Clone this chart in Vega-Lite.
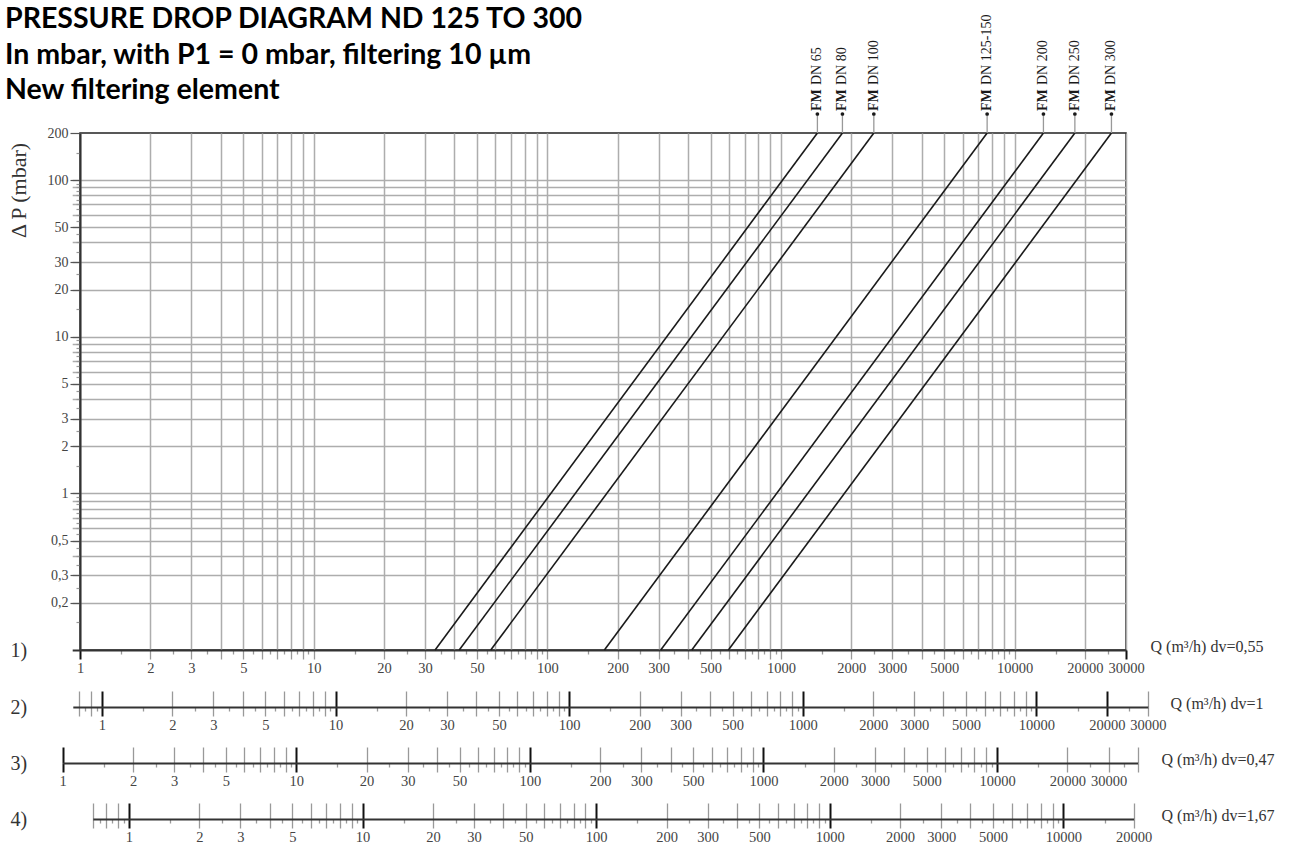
{
  "$schema": "https://vega.github.io/schema/vega-lite/v6.json",
  "width": 1046,
  "height": 517,
  "padding": {"left": 5, "top": 5, "right": 5, "bottom": 2},
  "background": "white",
  "title": {
    "text": ["PRESSURE DROP DIAGRAM ND 125 TO 300", "In mbar, with P1 = 0 mbar, filtering 10 µm", "New filtering element"],
    "anchor": "start",
    "frame": "group",
    "dx": -75,
    "offset": -90,
    "font": "Lato",
    "fontSize": 28.5,
    "fontWeight": "bold",
    "lineHeight": 35.5,
    "color": "#000000"
  },
  "datasets": {
    "lines": [
      {"dn": "DN 65", "Q": 33.1, "dP": 0.1}, {"dn": "DN 65", "Q": 1433, "dP": 200},
      {"dn": "DN 80", "Q": 42.0, "dP": 0.1}, {"dn": "DN 80", "Q": 1834, "dP": 200},
      {"dn": "DN 100", "Q": 57.3, "dP": 0.1}, {"dn": "DN 100", "Q": 2499, "dP": 200},
      {"dn": "DN 125-150", "Q": 175.6, "dP": 0.1}, {"dn": "DN 125-150", "Q": 7634, "dP": 200},
      {"dn": "DN 200", "Q": 306, "dP": 0.1}, {"dn": "DN 200", "Q": 13295, "dP": 200},
      {"dn": "DN 250", "Q": 415.5, "dP": 0.1}, {"dn": "DN 250", "Q": 18125, "dP": 200},
      {"dn": "DN 300", "Q": 596, "dP": 0.1}, {"dn": "DN 300", "Q": 25991, "dP": 200}
    ],
    "labels": [
      {"dn": "DN 65", "Qtop": 1433},
      {"dn": "DN 80", "Qtop": 1834},
      {"dn": "DN 100", "Qtop": 2499},
      {"dn": "DN 125-150", "Qtop": 7634},
      {"dn": "DN 200", "Qtop": 13295},
      {"dn": "DN 250", "Qtop": 18125},
      {"dn": "DN 300", "Qtop": 25991}
    ],
    "dummy": [{"Q": 1}]
  },
  "layer": [
    {
      "layer": [
        {
          "data": {"name": "lines"},
          "mark": {"type": "line", "color": "#1a1a1a", "strokeWidth": 1.6},
          "encoding": {
            "detail": {"field": "dn", "type": "nominal"},
            "x": {
              "field": "Q", "type": "quantitative",
              "scale": {"type": "log", "domain": [0.926, 30000], "range": [-7.8, 1046], "nice": false},
              "axis": {
                "orient": "bottom",
                "values": [1,2,3,4,5,6,7,8,9,10,20,30,40,50,60,70,80,90,100,200,300,400,500,600,700,800,900,1000,2000,3000,4000,5000,6000,7000,8000,9000,10000,20000,30000,1.5,2.5,3.5,4.5,5.5,6.5,7.5,8.5,9.5,15,25,35,45,55,65,75,85,95,150,250,350,450,550,650,750,850,950,1500,2500,3500,4500,5500,6500,7500,8500,9500,15000,25000],
                "grid": true,
                "gridColor": "#adadad",
                "gridWidth": 1.5,
                "gridOpacity": {"condition": {"test": "abs(datum.value/pow(10,floor(log(datum.value)/LN10+1e-9))-round(datum.value/pow(10,floor(log(datum.value)/LN10+1e-9))))>0.25", "value": 0}, "value": 1},
                "domainColor": "#333333",
                "domainWidth": 2,
                "tickSize": {"condition": {"test": "abs(datum.value/pow(10,floor(log(datum.value)/LN10+1e-9))-round(datum.value/pow(10,floor(log(datum.value)/LN10+1e-9))))>0.25", "value": 4}, "value": 9},
                "tickColor": {"condition": {"test": "indexof([1,30000],datum.value)>=0", "value": "#111111"}, "value": "#999999"},
                "tickWidth": {"condition": {"test": "indexof([1,30000],datum.value)>=0", "value": 2}, "value": 1.3},
                "labelExpr": "indexof([1,2,3,5,10,20,30,50,100,200,300,500,1000,2000,3000,5000,10000,20000,30000],datum.value)>=0 ? toString(datum.value) : ''",
                "labelFont": "Liberation Serif",
                "labelFontSize": 14.5,
                "labelColor": "#444444",
                "labelPadding": 2,
                "labelOverlap": false,
                "labelFlush": false,
                "title": "Q (m³/h)  dv=0,55",
                "titleX": 1070,
                "titleY": -4,
                "titleAlign": "left",
                "titleBaseline": "middle",
                "titleFont": "Liberation Serif",
                "titleFontSize": 16,
                "titleFontWeight": "normal",
                "titleColor": "#333333"
              }
            },
            "y": {
              "field": "dP", "type": "quantitative",
              "scale": {"type": "log", "domain": [0.1, 200], "nice": false},
              "axis": {
                "orient": "left",
                "values": [0.2,0.3,0.4,0.5,0.6,0.7,0.8,0.9,1,2,3,4,5,6,7,8,9,10,20,30,40,50,60,70,80,90,100,200,0.15,0.25,0.35,0.45,0.55,0.65,0.75,0.85,0.95,1.5,2.5,3.5,4.5,5.5,6.5,7.5,8.5,9.5,15,25,35,45,55,65,75,85,95,150],
                "grid": true,
                "gridColor": "#adadad",
                "gridWidth": 1.5,
                "gridOpacity": {"condition": {"test": "datum.value==200 || abs(datum.value/pow(10,floor(log(datum.value)/LN10+1e-9))-round(datum.value/pow(10,floor(log(datum.value)/LN10+1e-9))))>0.25", "value": 0}, "value": 1},
                "domainColor": "#333333",
                "domainWidth": 2,
                "tickSize": {"condition": {"test": "indexof([200,100,50,30,20,10,5,3,2,1,0.5,0.3,0.2],datum.value)>=0", "value": 10}, "value": 4},
                "tickColor": {"condition": {"test": "indexof([200,100,50,30,20,10,5,3,2,1,0.5,0.3,0.2],datum.value)>=0", "value": "#555555"}, "value": "#999999"},
                "tickWidth": 1.2,
                "labelExpr": "indexof([200,100,50,30,20,10,5,3,2,1,0.5,0.3,0.2],datum.value)>=0 ? replace(toString(datum.value),'.',',') : ''",
                "labelFont": "Liberation Serif",
                "labelFontSize": 14,
                "labelColor": "#444444",
                "labelPadding": 2,
                "labelOverlap": false,
                "labelFlush": false,
                "title": "Δ P (mbar)",
                "titleX": -62,
                "titleY": 57,
                "titleAngle": 270,
                "titleAlign": "center",
                "titleBaseline": "middle",
                "titleFont": "Liberation Serif",
                "titleFontSize": 22,
                "titleFontWeight": "normal",
                "titleColor": "#333333"
              }
            }
          }
        },
        {
          "data": {"name": "labels"},
          "mark": {"type": "rule", "color": "#999999", "strokeWidth": 1.3, "yOffset": -19},
          "encoding": {
            "x": {"field": "Qtop", "type": "quantitative", "scale": {"type": "log", "domain": [0.926, 30000], "range": [-7.8, 1046], "nice": false}},
            "y": {"datum": 200, "type": "quantitative", "scale": {"type": "log", "domain": [0.1, 200], "nice": false}},
            "y2": {"datum": 200}
          }
        },
        {
          "data": {"name": "labels"},
          "mark": {"type": "point", "filled": true, "color": "#1a1a1a", "size": 14, "opacity": 1, "yOffset": -19},
          "encoding": {
            "x": {"field": "Qtop", "type": "quantitative", "scale": {"type": "log", "domain": [0.926, 30000], "range": [-7.8, 1046], "nice": false}},
            "y": {"datum": 200, "type": "quantitative", "scale": {"type": "log", "domain": [0.1, 200], "nice": false}}
          }
        },
        {
          "data": {"name": "labels"},
          "mark": {"type": "text", "angle": 270, "align": "left", "baseline": "middle", "dx": 22, "font": "Liberation Serif", "fontSize": 14, "fontWeight": "bold", "color": "#1a1a1a"},
          "encoding": {
            "x": {"field": "Qtop", "type": "quantitative", "scale": {"type": "log", "domain": [0.926, 30000], "range": [-7.8, 1046], "nice": false}},
            "y": {"datum": 200, "type": "quantitative", "scale": {"type": "log", "domain": [0.1, 200], "nice": false}},
            "text": {"value": "FM"}
          }
        },
        {
          "data": {"name": "labels"},
          "mark": {"type": "text", "angle": 270, "align": "left", "baseline": "middle", "dx": 48, "font": "Liberation Serif", "fontSize": 14, "fontWeight": "normal", "color": "#1a1a1a"},
          "encoding": {
            "x": {"field": "Qtop", "type": "quantitative", "scale": {"type": "log", "domain": [0.926, 30000], "range": [-7.8, 1046], "nice": false}},
            "y": {"datum": 200, "type": "quantitative", "scale": {"type": "log", "domain": [0.1, 200], "nice": false}},
            "text": {"field": "dn", "type": "nominal"}
          }
        }
      ]
    },
    {
      "data": {"name": "dummy"},
      "mark": {"type": "point", "opacity": 0},
      "encoding": {
        "x": {
          "field": "Q", "type": "quantitative",
          "scale": {"type": "log", "domain": [0.926, 30000], "range": [-7.8, 1046], "nice": false},
          "axis": {"orient": "top", "offset": -517, "domain": false, "ticks": false, "labels": false, "grid": false,
            "title": "1)", "titleX": -70, "titleY": 0, "titleAlign": "left", "titleBaseline": "middle",
            "titleFont": "Liberation Serif", "titleFontSize": 20, "titleFontWeight": "normal", "titleColor": "#333333"}
        }
      }
    },
    {
      "data": {"name": "dummy"},
      "mark": {"type": "point", "opacity": 0},
      "encoding": {
        "x": {
          "field": "Q", "type": "quantitative",
          "scale": {"type": "log", "domain": [0.75, 30000], "range": [-7.2, 1067.9], "nice": false},
          "axis": {"orient": "top", "offset": -574, "domain": false, "labels": false, "grid": false,
            "values": [0.8,0.9,1,2,3,4,5,6,7,8,9,10,20,30,40,50,60,70,80,90,100,200,300,400,500,600,700,800,900,1000,2000,3000,4000,5000,6000,7000,8000,9000,10000,20000,30000],
            "tickSize": 16,
            "tickColor": {"condition": {"test": "indexof([1,10,100,1000,10000,20000],datum.value)>=0", "value": "#111111"}, "value": "#999999"},
            "tickWidth": {"condition": {"test": "indexof([1,10,100,1000,10000,20000],datum.value)>=0", "value": 2}, "value": 1.3},
            "title": "2)", "titleX": -70, "titleY": 0, "titleAlign": "left", "titleBaseline": "middle",
            "titleFont": "Liberation Serif", "titleFontSize": 20, "titleFontWeight": "normal", "titleColor": "#333333"}
        }
      }
    },
    {
      "data": {"name": "dummy"},
      "mark": {"type": "point", "opacity": 0},
      "encoding": {
        "x": {
          "field": "Q", "type": "quantitative",
          "scale": {"type": "log", "domain": [0.75, 30000], "range": [-7.2, 1067.9], "nice": false},
          "axis": {"orient": "bottom", "offset": 57, "grid": false,
            "values": [0.8,0.9,1,2,3,4,5,6,7,8,9,10,20,30,40,50,60,70,80,90,100,200,300,400,500,600,700,800,900,1000,2000,3000,4000,5000,6000,7000,8000,9000,10000,20000,30000,0.85,0.95,1.5,2.5,3.5,4.5,5.5,6.5,7.5,8.5,9.5,15,25,35,45,55,65,75,85,95,150,250,350,450,550,650,750,850,950,1500,2500,3500,4500,5500,6500,7500,8500,9500,15000,25000],
            "domainColor": "#333333", "domainWidth": 2,
            "tickSize": {"condition": {"test": "abs(datum.value/pow(10,floor(log(datum.value)/LN10+1e-9))-round(datum.value/pow(10,floor(log(datum.value)/LN10+1e-9))))>0.25", "value": 4}, "value": 9},
            "tickColor": {"condition": {"test": "indexof([1,10,100,1000,10000,20000],datum.value)>=0", "value": "#111111"}, "value": "#999999"},
            "tickWidth": {"condition": {"test": "indexof([1,10,100,1000,10000,20000],datum.value)>=0", "value": 2}, "value": 1.3},
            "labelExpr": "indexof([1,2,3,5,10,20,30,50,100,200,300,500,1000,2000,3000,5000,10000,20000,30000],datum.value)>=0 ? toString(datum.value) : ''",
            "labelFont": "Liberation Serif", "labelFontSize": 14.5, "labelColor": "#444444", "labelPadding": 2, "labelOverlap": false, "labelFlush": false,
            "title": "Q (m³/h)  dv=1", "titleX": 1090, "titleY": -4, "titleAlign": "left", "titleBaseline": "middle",
            "titleFont": "Liberation Serif", "titleFontSize": 16, "titleFontWeight": "normal", "titleColor": "#333333"}
        }
      }
    },
    {
      "data": {"name": "dummy"},
      "mark": {"type": "point", "opacity": 0},
      "encoding": {
        "x": {
          "field": "Q", "type": "quantitative",
          "scale": {"type": "log", "domain": [1, 40000], "range": [-17.3, 1057.7], "nice": false},
          "axis": {"orient": "top", "offset": -630, "domain": false, "labels": false, "grid": false,
            "values": [1,2,3,4,5,6,7,8,9,10,20,30,40,50,60,70,80,90,100,200,300,400,500,600,700,800,900,1000,2000,3000,4000,5000,6000,7000,8000,9000,10000,20000,30000,40000],
            "tickSize": 16,
            "tickColor": {"condition": {"test": "indexof([1,10,100,1000,10000],datum.value)>=0", "value": "#111111"}, "value": "#999999"},
            "tickWidth": {"condition": {"test": "indexof([1,10,100,1000,10000],datum.value)>=0", "value": 2}, "value": 1.3},
            "title": "3)", "titleX": -70, "titleY": 0, "titleAlign": "left", "titleBaseline": "middle",
            "titleFont": "Liberation Serif", "titleFontSize": 20, "titleFontWeight": "normal", "titleColor": "#333333"}
        }
      }
    },
    {
      "data": {"name": "dummy"},
      "mark": {"type": "point", "opacity": 0},
      "encoding": {
        "x": {
          "field": "Q", "type": "quantitative",
          "scale": {"type": "log", "domain": [1, 40000], "range": [-17.3, 1057.7], "nice": false},
          "axis": {"orient": "bottom", "offset": 113, "grid": false,
            "values": [1,2,3,4,5,6,7,8,9,10,20,30,40,50,60,70,80,90,100,200,300,400,500,600,700,800,900,1000,2000,3000,4000,5000,6000,7000,8000,9000,10000,20000,30000,40000,1.5,2.5,3.5,4.5,5.5,6.5,7.5,8.5,9.5,15,25,35,45,55,65,75,85,95,150,250,350,450,550,650,750,850,950,1500,2500,3500,4500,5500,6500,7500,8500,9500,15000,25000,35000],
            "domainColor": "#333333", "domainWidth": 2,
            "tickSize": {"condition": {"test": "abs(datum.value/pow(10,floor(log(datum.value)/LN10+1e-9))-round(datum.value/pow(10,floor(log(datum.value)/LN10+1e-9))))>0.25", "value": 4}, "value": 9},
            "tickColor": {"condition": {"test": "indexof([1,10,100,1000,10000],datum.value)>=0", "value": "#111111"}, "value": "#999999"},
            "tickWidth": {"condition": {"test": "indexof([1,10,100,1000,10000],datum.value)>=0", "value": 2}, "value": 1.3},
            "labelExpr": "indexof([1,2,3,5,10,20,30,50,100,200,300,500,1000,2000,3000,5000,10000,20000,30000],datum.value)>=0 ? toString(datum.value) : ''",
            "labelFont": "Liberation Serif", "labelFontSize": 14.5, "labelColor": "#444444", "labelPadding": 2, "labelOverlap": false, "labelFlush": false,
            "title": "Q (m³/h)  dv=0,47", "titleX": 1081, "titleY": -4, "titleAlign": "left", "titleBaseline": "middle",
            "titleFont": "Liberation Serif", "titleFontSize": 16, "titleFontWeight": "normal", "titleColor": "#333333"}
        }
      }
    },
    {
      "data": {"name": "dummy"},
      "mark": {"type": "point", "opacity": 0},
      "encoding": {
        "x": {
          "field": "Q", "type": "quantitative",
          "scale": {"type": "log", "domain": [0.7, 20000], "range": [12.8, 1053.7], "nice": false},
          "axis": {"orient": "top", "offset": -686, "domain": false, "labels": false, "grid": false,
            "values": [0.7,0.8,0.9,1,2,3,4,5,6,7,8,9,10,20,30,40,50,60,70,80,90,100,200,300,400,500,600,700,800,900,1000,2000,3000,4000,5000,6000,7000,8000,9000,10000,20000],
            "tickSize": 16,
            "tickColor": {"condition": {"test": "indexof([1,10,100,1000,10000],datum.value)>=0", "value": "#111111"}, "value": "#999999"},
            "tickWidth": {"condition": {"test": "indexof([1,10,100,1000,10000],datum.value)>=0", "value": 2}, "value": 1.3},
            "title": "4)", "titleX": -70, "titleY": 0, "titleAlign": "left", "titleBaseline": "middle",
            "titleFont": "Liberation Serif", "titleFontSize": 20, "titleFontWeight": "normal", "titleColor": "#333333"}
        }
      }
    },
    {
      "data": {"name": "dummy"},
      "mark": {"type": "point", "opacity": 0},
      "encoding": {
        "x": {
          "field": "Q", "type": "quantitative",
          "scale": {"type": "log", "domain": [0.7, 20000], "range": [12.8, 1053.7], "nice": false},
          "axis": {"orient": "bottom", "offset": 169, "grid": false,
            "values": [0.7,0.8,0.9,1,2,3,4,5,6,7,8,9,10,20,30,40,50,60,70,80,90,100,200,300,400,500,600,700,800,900,1000,2000,3000,4000,5000,6000,7000,8000,9000,10000,20000,0.75,0.85,0.95,1.5,2.5,3.5,4.5,5.5,6.5,7.5,8.5,9.5,15,25,35,45,55,65,75,85,95,150,250,350,450,550,650,750,850,950,1500,2500,3500,4500,5500,6500,7500,8500,9500,15000],
            "domainColor": "#333333", "domainWidth": 2,
            "tickSize": {"condition": {"test": "abs(datum.value/pow(10,floor(log(datum.value)/LN10+1e-9))-round(datum.value/pow(10,floor(log(datum.value)/LN10+1e-9))))>0.25", "value": 4}, "value": 9},
            "tickColor": {"condition": {"test": "indexof([1,10,100,1000,10000],datum.value)>=0", "value": "#111111"}, "value": "#999999"},
            "tickWidth": {"condition": {"test": "indexof([1,10,100,1000,10000],datum.value)>=0", "value": 2}, "value": 1.3},
            "labelExpr": "indexof([1,2,3,5,10,20,30,50,100,200,300,500,1000,2000,3000,5000,10000,20000],datum.value)>=0 ? toString(datum.value) : ''",
            "labelFont": "Liberation Serif", "labelFontSize": 14.5, "labelColor": "#444444", "labelPadding": 2, "labelOverlap": false, "labelFlush": false,
            "title": "Q (m³/h)  dv=1,67", "titleX": 1081, "titleY": -4, "titleAlign": "left", "titleBaseline": "middle",
            "titleFont": "Liberation Serif", "titleFontSize": 16, "titleFontWeight": "normal", "titleColor": "#333333"}
        }
      }
    }
  ],
  "resolve": {"scale": {"x": "independent"}},
  "config": {
    "view": {"stroke": "#222222", "strokeWidth": 1.5},
    "font": "Liberation Serif"
  }
}
